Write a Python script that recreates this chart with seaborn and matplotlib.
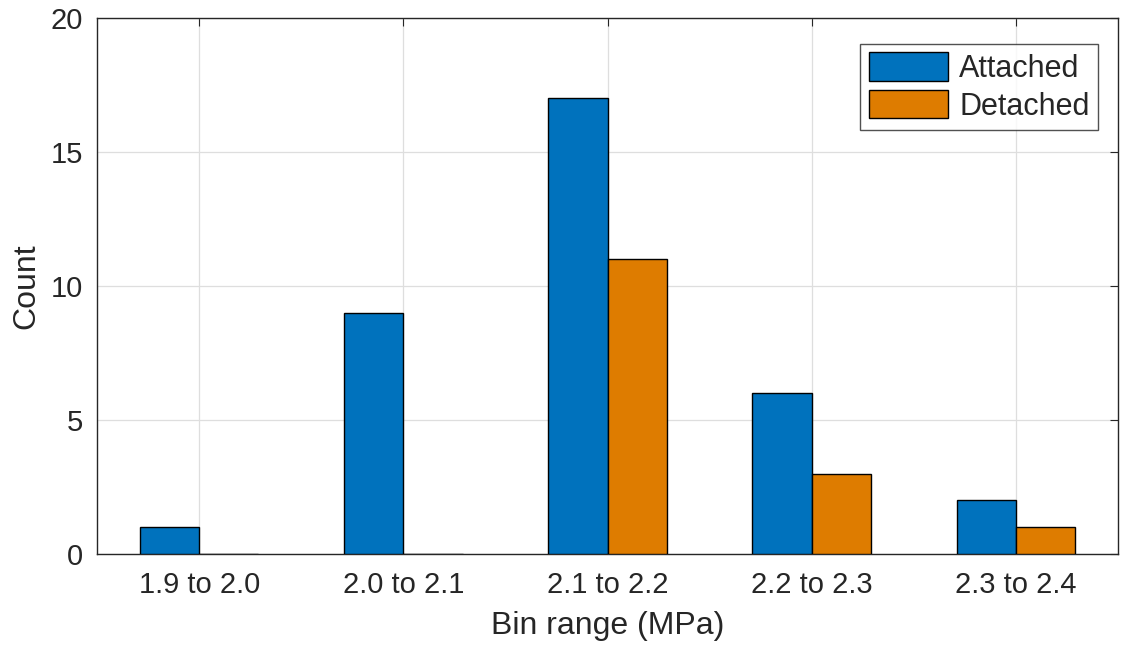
import matplotlib
matplotlib.use("Agg")
import matplotlib.pyplot as plt
import seaborn as sns
import pandas as pd

bins = ["1.9 to 2.0", "2.0 to 2.1", "2.1 to 2.2", "2.2 to 2.3", "2.3 to 2.4"]
attached = [1, 9, 17, 6, 2]
detached = [0, 0, 11, 3, 1]
series = ["Attached", "Detached"]
colors = ["#0072BD", "#DE7C00"]

df = pd.DataFrame({
    "Bin": bins * 2,
    "Count": attached + detached,
    "Group": [series[0]] * len(bins) + [series[1]] * len(bins),
})

sns.set_theme(style="white")
plt.rcParams["font.family"] = ["Liberation Sans", "DejaVu Sans"]

fig = plt.figure(figsize=(11.22, 6.45), dpi=100)
ax = fig.add_axes([0.0865, 0.141, 0.9099, 0.831])

sns.barplot(data=df, x="Bin", y="Count", hue="Group", order=bins,
            hue_order=series, palette=colors, width=0.58, gap=0,
            edgecolor="black", linewidth=1.0, saturation=1, ax=ax, zorder=3)

ax.set_xlim(-0.5, len(bins) - 0.5)
ax.set_ylim(0, 20)
ax.set_yticks([0, 5, 10, 15, 20])
ax.grid(True, color="#dedede", linewidth=0.9, zorder=0)
ax.set_axisbelow(True)
for s in ax.spines.values():
    s.set_visible(True)
    s.set_color("#262626")
    s.set_linewidth(1.0)
ax.tick_params(axis="both", direction="in", length=6, width=0.8,
               color="#262626", labelsize=21, labelcolor="#262626",
               top=True, right=True)
ax.tick_params(axis="x", pad=12)
ax.tick_params(axis="y", pad=10)
ax.set_xlabel("Bin range (MPa)", fontsize=23, color="#262626", labelpad=9)
ax.set_ylabel("Count", fontsize=23, color="#262626", labelpad=7)

leg = ax.legend(loc="upper right", bbox_to_anchor=(0.9805, 0.952),
                fontsize=22, frameon=True, fancybox=False,
                edgecolor="#262626", handlelength=2.6, handleheight=1.05,
                handletextpad=0.35, borderpad=0.28, labelspacing=0.2,
                borderaxespad=0)
leg.get_frame().set_linewidth(1.0)

fig.savefig("out.png", dpi=100)
